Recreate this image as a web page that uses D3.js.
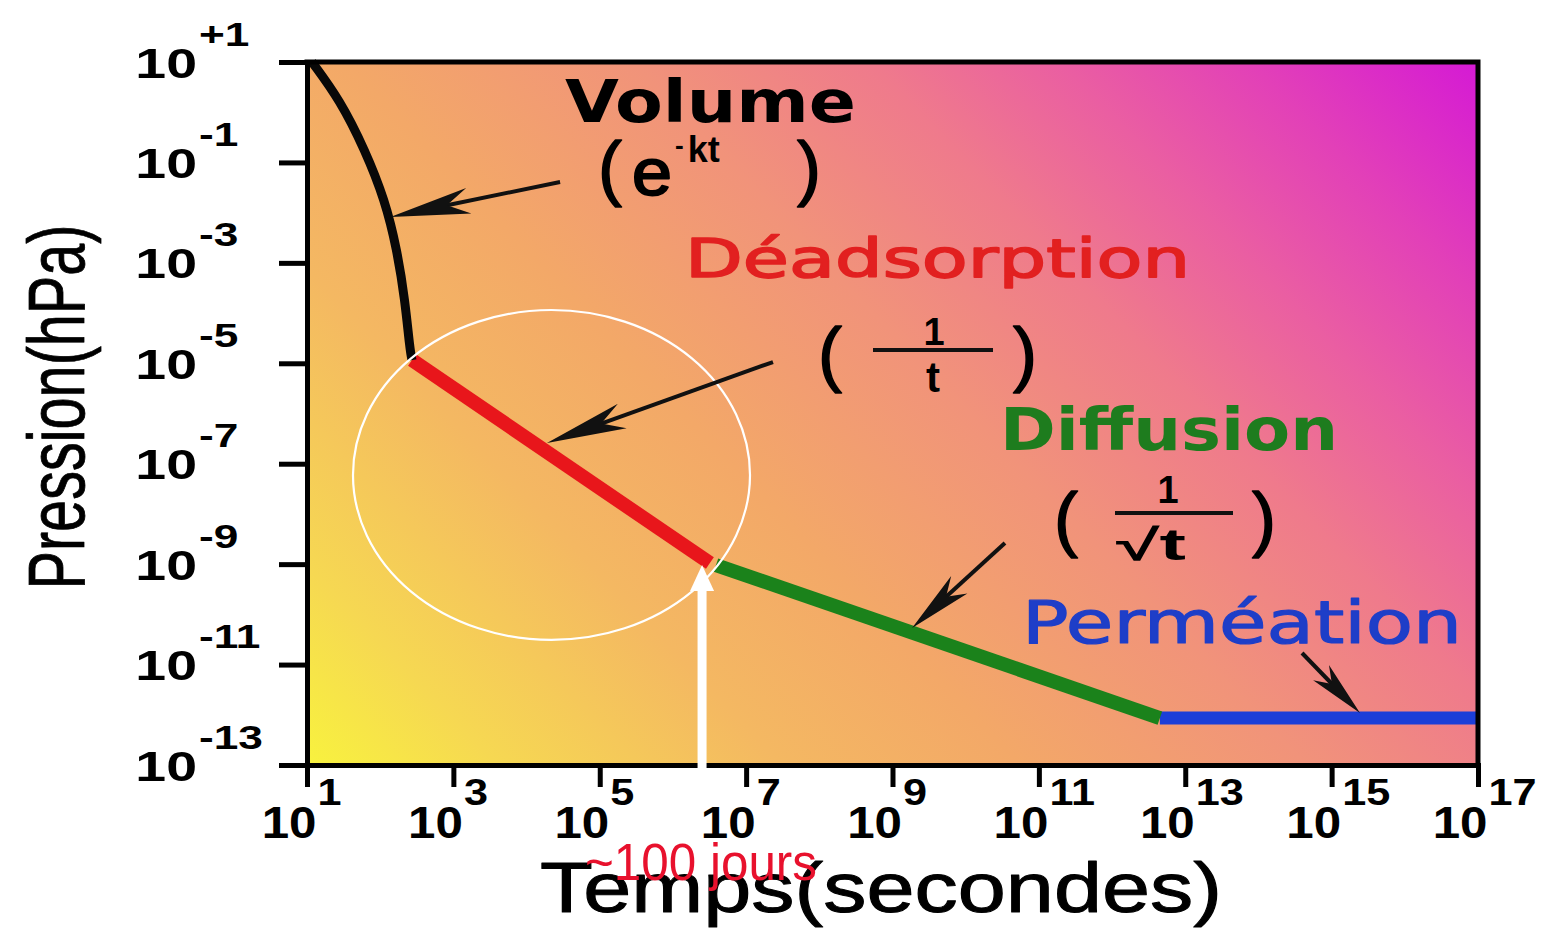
<!DOCTYPE html>
<html><head><meta charset="utf-8">
<script src="https://cdn.jsdelivr.net/npm/d3@7"></script>
<style>body{margin:0;background:#fff}svg{display:block}</style>
</head><body>
<svg id="c" width="1552" height="928"></svg>
<script>
// ---------- data ----------
const xTickValues = [1e1, 1e3, 1e5, 1e7, 1e9, 1e11, 1e13, 1e15, 1e17];
const xTickExponents = ["1", "3", "5", "7", "9", "11", "13", "15", "17"];
const yTickValues = [1e1, 1e-1, 1e-3, 1e-5, 1e-7, 1e-9, 1e-11, 1e-13];
const yTickExponents = ["+1", "-1", "-3", "-5", "-7", "-9", "-11", "-13"];

const volumeT = [11.7, 28.2, 62, 116, 170, 218, 255, 272];
const volumeP = [10, 1.75, 0.177, 0.0179, 1.81e-3, 1.82e-4, 1.84e-5, 1.16e-5];
const desorptionT = [272, 3.2e6];
const desorptionP = [1.16e-5, 1.05e-9];
const diffusionT = [3.87e6, 4.5e12];
const diffusionP = [9.6e-10, 8.6e-13];
const permeationT = [4.5e12, 1e17];
const permeationP = [8.6e-13, 8.6e-13];

// annotation arrows (start -> tip), in data units
const arrowStartT = [2.87e4, 2.33e7, 3.44e10, 3.94e14];
const arrowStartP = [0.0408, 1.06e-5, 2.64e-9, 1.7e-11];
const arrowTipT = [138, 1.9e4, 1.85e9, 2.44e15];
const arrowTipP = [8.2e-3, 2.59e-7, 5.36e-11, 1.09e-12];

// highlighted region (ellipse bounds) and marker
const circleT = [42.5, 1.13e7];
const circleP = [1.15e-4, 3.1e-11];
const markerT = 2.5e6;
const markerP = 9.6e-10;

// ---------- drawing ----------
const svg = d3.select("#c");
const x = d3.scaleLog().domain([1e1, 1e17]).range([307, 1478]);
const y = d3.scaleLog().domain([1e-13, 1e1]).range([765, 62]);

const defs = svg.append("defs");
const grad = defs.append("linearGradient").attr("id", "bg")
  .attr("gradientUnits", "userSpaceOnUse")
  .attr("x1", 307).attr("y1", 765).attr("x2", 1547).attr("y2", -424);
[[0, "#f8f23e"], [0.08, "#f6d852"], [0.2, "#f4b862"], [0.3, "#f3a868"],
 [0.42, "#f1937a"], [0.52, "#ef7a8c"], [0.6, "#ea5ea2"], [0.68, "#e240b8"], [0.78, "#d418d6"], [1, "#c810d8"]]
  .forEach(s => grad.append("stop").attr("offset", s[0]).attr("stop-color", s[1]));

svg.append("rect")
  .attr("x", x.range()[0]).attr("y", y.range()[1])
  .attr("width", x.range()[1] - x.range()[0])
  .attr("height", y.range()[0] - y.range()[1])
  .attr("fill", "url(#bg)");

const line = d3.line().x(d => x(d[0])).y(d => y(d[1]));
const zip = (a, b) => a.map((v, i) => [v, b[i]]);

svg.append("path").attr("d", line(zip(permeationT, permeationP)))
  .attr("stroke", "#1c3ed8").attr("stroke-width", 13).attr("fill", "none");
svg.append("path").attr("d", line(zip(diffusionT, diffusionP)))
  .attr("stroke", "#1b821b").attr("stroke-width", 14).attr("fill", "none");
svg.append("path").attr("d", line(zip(desorptionT, desorptionP)))
  .attr("stroke", "#e8161b").attr("stroke-width", 14).attr("fill", "none");
const curveLine = d3.line().x(d => x(d[0])).y(d => y(d[1])).curve(d3.curveBasis);
svg.append("path").attr("d", curveLine(zip(volumeT, volumeP)))
  .attr("stroke", "#080808").attr("stroke-width", 9).attr("fill", "none");

// ellipse
const cx = (x(circleT[0]) + x(circleT[1])) / 2, cy = (y(circleP[0]) + y(circleP[1])) / 2;
svg.append("ellipse").attr("cx", cx).attr("cy", cy)
  .attr("rx", (x(circleT[1]) - x(circleT[0])) / 2)
  .attr("ry", (y(circleP[1]) - y(circleP[0])) / 2)
  .attr("fill", "none").attr("stroke", "#fff").attr("stroke-width", 2.2);

// black annotation arrows
const headL = [80, 80, 64, 56], headW = [13, 13, 12, 11];
arrowStartT.forEach((_, i) => {
  const sx = x(arrowStartT[i]), sy = y(arrowStartP[i]);
  const tx = x(arrowTipT[i]), ty = y(arrowTipP[i]);
  const len = Math.hypot(sx - tx, sy - ty);
  const ux = (sx - tx) / len, uy = (sy - ty) / len, nx = -uy, ny = ux;
  const L = headL[i], W = headW[i];
  svg.append("line").attr("x1", sx).attr("y1", sy)
    .attr("x2", tx + ux * L * 0.6).attr("y2", ty + uy * L * 0.6)
    .attr("stroke", "#111").attr("stroke-width", 4);
  const pts = [[tx, ty], [tx + ux * L + nx * W, ty + uy * L + ny * W],
    [tx + ux * L * 0.72, ty + uy * L * 0.72], [tx + ux * L - nx * W, ty + uy * L - ny * W]];
  svg.append("path").attr("d", "M" + pts.map(p => p.join(",")).join("L") + "Z").attr("fill", "#111");
});

// ---------- axes ----------
const xAxis = d3.axisBottom(x).tickValues(xTickValues).tickSize(22).tickSizeOuter(0).tickFormat(() => "");
const yAxis = d3.axisLeft(y).tickValues(yTickValues).tickSize(28).tickSizeOuter(0).tickFormat(() => "");
const gx = svg.append("g").attr("transform", `translate(0,${y.range()[0]})`).call(xAxis);
const gy = svg.append("g").attr("transform", `translate(${x.range()[0]},0)`).call(yAxis);
[gx, gy].forEach(g => {
  g.select(".domain").attr("stroke", "#000").attr("stroke-width", 5).attr("stroke-linecap", "square");
  g.selectAll(".tick line").attr("stroke", "#000").attr("stroke-width", 5);
});
// frame top and right
svg.append("path")
  .attr("d", `M${x.range()[0]},${y.range()[1]}H${x.range()[1]}V${y.range()[0]}`)
  .attr("fill", "none").attr("stroke", "#000").attr("stroke-width", 5).attr("stroke-linecap", "square");

function txt(parent, xp, yp, s, size, o = {}) {
  const t = parent.append("text").attr("x", xp).attr("y", yp).text(s)
    .attr("font-size", size)
    .attr("font-family", o.family || "'Liberation Sans', Arial, sans-serif")
    .attr("font-weight", o.weight || "normal")
    .attr("fill", o.fill || "#000")
    .attr("text-anchor", o.anchor || "start");
  if (o.thick) t.attr("stroke", o.fill || "#000").attr("stroke-width", o.thick).attr("stroke-linejoin", "round");
  if (o.transform) t.attr("transform", o.transform);
  if (o.width) t.attr("textLength", o.width).attr("lengthAdjust", "spacingAndGlyphs");
  else if (o.stretch) {
    const w = t.node().getComputedTextLength();
    t.attr("textLength", w * o.stretch).attr("lengthAdjust", "spacingAndGlyphs");
  }
  return t;
}

gx.selectAll(".tick").each(function (d, i) {
  const g = d3.select(this);
  txt(g, 9, 73, "10", 44, { weight: "bold", anchor: "end", stretch: 1.12 });
  txt(g, 10, 40, xTickExponents[i], 36, { weight: "bold", stretch: 1.2 });
});
gy.selectAll(".tick").each(function (d, i) {
  const g = d3.select(this);
  txt(g, -110, 15, "10", 42, { weight: "bold", anchor: "end", stretch: 1.32 });
  txt(g, -108, -17, yTickExponents[i], 34, { weight: "bold", stretch: 1.3 });
});

// white marker arrow (drawn over the axis)
const mx = x(markerT), my = y(markerP);
svg.append("line").attr("x1", mx).attr("y1", y.range()[0] + 13).attr("x2", mx).attr("y2", my + 20)
  .attr("stroke", "#fff").attr("stroke-width", 9);
svg.append("path").attr("d", `M${mx},${my}L${mx + 12},${my + 26}L${mx - 12},${my + 26}Z`).attr("fill", "#fff");

// ---------- labels ----------
const dj = "'DejaVu Sans', Verdana, sans-serif";
txt(svg, 565, 122, "Volume", 58, { family: dj, weight: "bold", width: 291 });
txt(svg, 598, 192, "(", 72, { thick: 1.5 });
txt(svg, 632, 195, "e", 66, { width: 40, thick: 2 });
const sup = svg.append("text").attr("x", 675).attr("y", 162)
  .attr("font-family", "'Liberation Sans', Arial, sans-serif").attr("font-weight", "bold").attr("fill", "#000");
sup.append("tspan").attr("font-size", 26).attr("dy", -8).text("-");
sup.append("tspan").attr("font-size", 36).attr("dx", 4).attr("dy", 8).text("kt");
txt(svg, 797, 192, ")", 72, { thick: 1.5 });

txt(svg, 685, 277, "Déadsorption", 54, { family: dj, fill: "#e22020", width: 505, thick: 1.6 });
txt(svg, 818, 378, "(", 72, { thick: 1.5 });
txt(svg, 934, 345, "1", 38, { weight: "bold", anchor: "middle" });
svg.append("rect").attr("x", 873).attr("y", 348).attr("width", 120).attr("height", 4).attr("fill", "#111");
txt(svg, 933, 392, "t", 42, { weight: "bold", anchor: "middle" });
txt(svg, 1013, 378, ")", 72, { thick: 1.5 });

txt(svg, 1000, 450, "Diffusion", 58, { family: dj, weight: "bold", fill: "#1e7c1e", width: 338 });
txt(svg, 1054, 543, "(", 72, { thick: 1.5 });
txt(svg, 1168, 503, "1", 38, { weight: "bold", anchor: "middle" });
svg.append("rect").attr("x", 1115).attr("y", 511).attr("width", 118).attr("height", 4).attr("fill", "#111");
txt(svg, 1116, 560, "√t", 44, { weight: "bold", width: 70 });
txt(svg, 1252, 543, ")", 72, { thick: 1.5 });

txt(svg, 1022, 643, "Perméation", 59, { family: dj, fill: "#1e3ec8", width: 440, thick: 1.2 });

// axis titles
txt(svg, 540, 912, "Temps(secondes)", 70, { width: 682, thick: 1 });
txt(svg, 0, 0, "Pression(hPa)", 80, { anchor: "middle", width: 365, thick: 0.8, transform: "translate(84,407) rotate(-90)" });
txt(svg, 585, 880, "~100 jours", 52, { fill: "#e8112d", width: 232 });
</script>
</body></html>
